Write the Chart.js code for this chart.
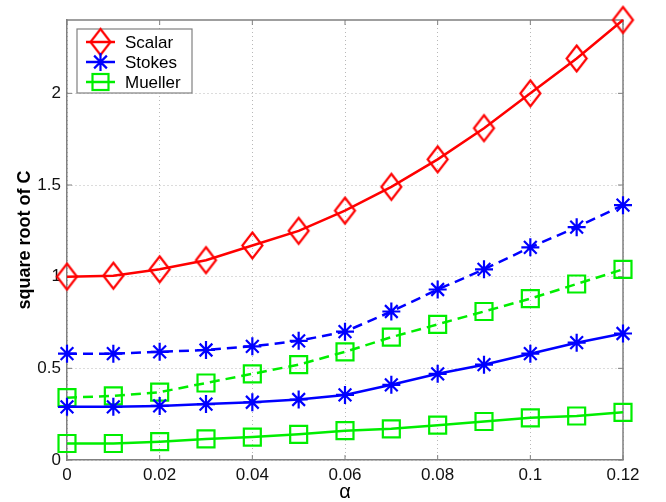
<!DOCTYPE html>
<html><head><meta charset="utf-8">
<script src="https://cdn.jsdelivr.net/npm/chart.js@4/dist/chart.umd.min.js"></script>
<style>html,body{margin:0;padding:0;background:#fff}#wrap{width:666px;height:502px}</style>
</head><body><div id="wrap"><canvas id="c" width="666" height="502"></canvas></div>
<script>
const alphaValues   = [0, 0.01, 0.02, 0.03, 0.04, 0.05, 0.06, 0.07, 0.08, 0.09, 0.10, 0.11, 0.12];
const scalar        = [1.00, 1.005, 1.04, 1.09, 1.17, 1.25, 1.36, 1.49, 1.64, 1.81, 2.00, 2.19, 2.40];
const stokesDashed  = [0.58, 0.58, 0.59, 0.60, 0.62, 0.65, 0.70, 0.81, 0.93, 1.04, 1.16, 1.27, 1.39];
const muellerDashed = [0.34, 0.35, 0.37, 0.42, 0.47, 0.52, 0.59, 0.67, 0.74, 0.81, 0.88, 0.96, 1.04];
const stokesSolid   = [0.29, 0.29, 0.295, 0.305, 0.315, 0.33, 0.355, 0.41, 0.47, 0.52, 0.58, 0.64, 0.69];
const muellerSolid  = [0.09, 0.09, 0.10, 0.115, 0.125, 0.14, 0.16, 0.17, 0.19, 0.21, 0.23, 0.24, 0.26];
const xTicks = [0, 0.02, 0.04, 0.06, 0.08, 0.1, 0.12];
const yTicks = [0, 0.5, 1, 1.5, 2];
const legendLabels = ['Scalar', 'Stokes', 'Mueller'];
const xTitle = 'α';
const yTitle = 'square root of C';

const RED = '#ff0000', BLUE = '#0000ff', GREEN = '#00ee00';
const FONT = "'Liberation Sans', Arial, Helvetica, sans-serif";

function makeDiamond(w, h, color, lw) {
  const c = document.createElement('canvas');
  c.width = Math.ceil(w + lw * 2); c.height = Math.ceil(h + lw * 2);
  const g = c.getContext('2d');
  g.strokeStyle = color; g.lineWidth = lw; g.lineJoin = 'miter';
  const cx = c.width / 2, cy = c.height / 2;
  g.beginPath();
  g.moveTo(cx, cy - h / 2); g.lineTo(cx + w / 2, cy); g.lineTo(cx, cy + h / 2); g.lineTo(cx - w / 2, cy);
  g.closePath(); g.stroke();
  return c;
}
const diamond = makeDiamond(20, 26, RED, 2.2);

const pts = arr => alphaValues.map((x, i) => ({x: x, y: arr[i]}));

function ds(label, arr, color, style, radius, dash) {
  return {
    label: label, data: pts(arr), borderColor: color, backgroundColor: 'rgba(0,0,0,0)',
    borderWidth: 2.5, borderDash: dash || [], pointStyle: style, pointRadius: radius,
    pointHoverRadius: radius, pointBorderColor: color, pointBackgroundColor: 'rgba(0,0,0,0)',
    pointBorderWidth: 2.2, tension: 0, clip: false, fill: false
  };
}

const boxPlugin = {
  id: 'boxPlugin',
  beforeDatasetsDraw(chart) {
    const {ctx, chartArea: a, scales: {x, y}} = chart;
    ctx.save();
    ctx.strokeStyle = '#808080'; ctx.lineWidth = 1.5;
    ctx.beginPath();
    ctx.moveTo(a.left, a.top); ctx.lineTo(a.right, a.top); ctx.lineTo(a.right, a.bottom);
    ctx.stroke();
    ctx.lineWidth = 1;
    ctx.beginPath();
    xTicks.forEach(v => {
      const px = x.getPixelForValue(v);
      ctx.moveTo(px, a.bottom); ctx.lineTo(px, a.bottom - 5);
      ctx.moveTo(px, a.top); ctx.lineTo(px, a.top + 5);
    });
    yTicks.forEach(v => {
      const py = y.getPixelForValue(v);
      ctx.moveTo(a.left, py); ctx.lineTo(a.left + 5, py);
      ctx.moveTo(a.right, py); ctx.lineTo(a.right - 5, py);
    });
    ctx.stroke();
    ctx.restore();
  }
};

function drawStar(ctx, cx, cy, r) {
  ctx.beginPath();
  ctx.moveTo(cx - r, cy); ctx.lineTo(cx + r, cy);
  ctx.moveTo(cx, cy - r); ctx.lineTo(cx, cy + r);
  const d = r * Math.SQRT1_2;
  ctx.moveTo(cx - d, cy - d); ctx.lineTo(cx + d, cy + d);
  ctx.moveTo(cx - d, cy + d); ctx.lineTo(cx + d, cy - d);
  ctx.stroke();
}

const legendPlugin = {
  id: 'legendPlugin',
  afterDraw(chart) {
    const {ctx, chartArea: a} = chart;
    const bx = a.left + 10, by = a.top + 9, bw = 115, bh = 64;
    ctx.save();
    ctx.fillStyle = '#fff'; ctx.fillRect(bx, by, bw, bh);
    ctx.strokeStyle = '#808080'; ctx.lineWidth = 1.2; ctx.strokeRect(bx, by, bw, bh);
    const colors = [RED, BLUE, GREEN];
    legendLabels.forEach((lab, i) => {
      const cy = by + 13 + i * 20;
      const x0 = bx + 9, x1 = bx + 38, cx = (x0 + x1) / 2;
      ctx.strokeStyle = colors[i]; ctx.lineWidth = 2.5; ctx.setLineDash([]);
      ctx.beginPath(); ctx.moveTo(x0, cy); ctx.lineTo(x1, cy); ctx.stroke();
      ctx.lineWidth = 2.2;
      if (i === 0) {
        ctx.drawImage(diamond, cx - diamond.width / 2, cy - diamond.height / 2);
      } else if (i === 1) {
        drawStar(ctx, cx, cy, 9);
      } else {
        ctx.strokeRect(cx - 8, cy - 8, 16, 16);
      }
      ctx.fillStyle = '#000'; ctx.font = '17px ' + FONT;
      ctx.textBaseline = 'middle'; ctx.textAlign = 'left';
      ctx.fillText(lab, bx + 48, cy + 1);
    });
    ctx.restore();
  }
};

new Chart(document.getElementById('c'), {
  type: 'line',
  data: {
    datasets: [
      ds('Scalar', scalar, RED, diamond, 13),
      ds('Stokes', stokesSolid, BLUE, 'star', 9),
      ds('Mueller', muellerSolid, GREEN, 'rect', 12),
      ds('Stokes dashed', stokesDashed, BLUE, 'star', 9, [10, 6]),
      ds('Mueller dashed', muellerDashed, GREEN, 'rect', 12, [10, 6])
    ]
  },
  options: {
    responsive: false, animation: false, devicePixelRatio: 1,
    layout: {padding: {left: 0, right: 43, top: 20, bottom: 0}},
    plugins: {legend: {display: false}, tooltip: {enabled: false}},
    scales: {
      x: {
        type: 'linear', min: 0, max: 0.12,
        afterBuildTicks: s => { s.ticks = xTicks.map(v => ({value: v})); },
        afterFit: s => { s.height = 42; },
        grid: {color: '#b8b8b8', lineWidth: 1, drawTicks: false},
        border: {display: true, color: '#808080', width: 1.5, dash: [1, 3]},
        ticks: {padding: 5, color: '#111', font: {family: FONT, size: 17}, maxRotation: 0,
                callback: v => String(+v.toFixed(2))},
        title: {display: true, text: xTitle, color: '#000', font: {family: FONT, size: 20, lineHeight: 1.0}, padding: {top: 0, bottom: 0}}
      },
      y: {
        type: 'linear', min: 0, max: 2.4,
        afterBuildTicks: s => { s.ticks = yTicks.map(v => ({value: v})); },
        afterFit: s => { s.width = 67; },
        grid: {color: '#b8b8b8', lineWidth: 1, drawTicks: false},
        border: {display: true, color: '#808080', width: 1.5, dash: [1, 3]},
        ticks: {padding: 6, color: '#111', font: {family: FONT, size: 17},
                callback: v => String(+v.toFixed(1))},
        title: {display: true, text: yTitle, color: '#000', font: {family: FONT, size: 18, weight: 'bold'}, padding: {top: 14, bottom: 0}}
      }
    }
  },
  plugins: [boxPlugin, legendPlugin]
});
</script>
</body></html>
